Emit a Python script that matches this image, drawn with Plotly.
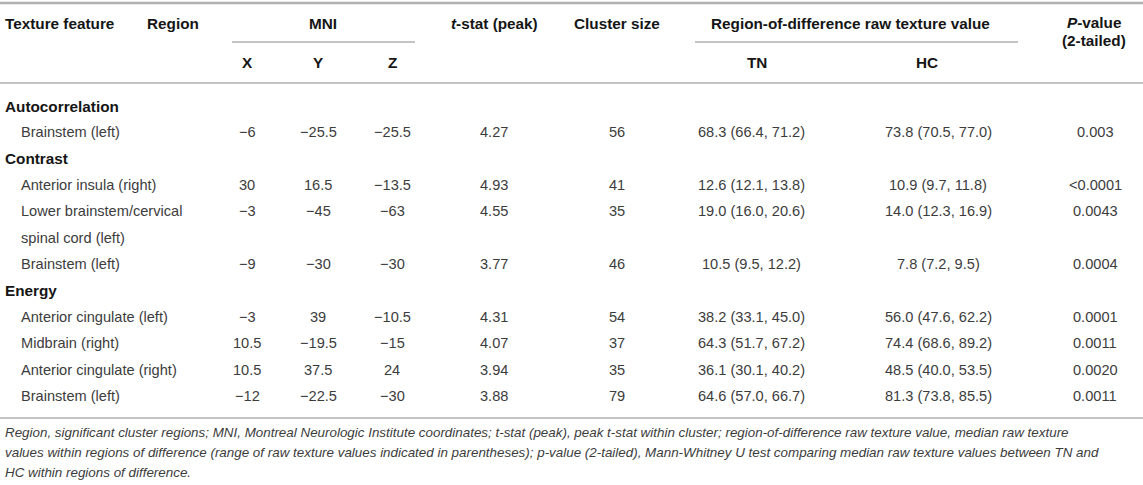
import textwrap
import plotly.graph_objects as go

# table data
features = ["Autocorrelation", "Contrast", "Contrast", "Contrast",
            "Energy", "Energy", "Energy", "Energy"]
regions = ["Brainstem (left)", "Anterior insula (right)",
           "Lower brainstem/cervical spinal cord (left)", "Brainstem (left)",
           "Anterior cingulate (left)", "Midbrain (right)",
           "Anterior cingulate (right)", "Brainstem (left)"]
mni_x = [-6, 30, -3, -9, -3, 10.5, 10.5, -12]
mni_y = [-25.5, 16.5, -45, -30, 39, -19.5, 37.5, -22.5]
mni_z = [-25.5, -13.5, -63, -30, -10.5, -15, 24, -30]
t_peak = [4.27, 4.93, 4.55, 3.77, 4.31, 4.07, 3.94, 3.88]
cluster_size = [56, 41, 35, 46, 54, 37, 35, 79]
tn_median = [68.3, 12.6, 19.0, 10.5, 38.2, 64.3, 36.1, 64.6]
tn_low = [66.4, 12.1, 16.0, 9.5, 33.1, 51.7, 30.1, 57.0]
tn_high = [71.2, 13.8, 20.6, 12.2, 45.0, 67.2, 40.2, 66.7]
hc_median = [73.8, 10.9, 14.0, 7.8, 56.0, 74.4, 48.5, 81.3]
hc_low = [70.5, 9.7, 12.3, 7.2, 47.6, 68.6, 40.0, 73.8]
hc_high = [77.0, 11.8, 16.9, 9.5, 62.2, 89.2, 53.5, 85.5]
p_values = ["0.003", "<0.0001", "0.0043", "0.0004", "0.0001", "0.0011", "0.0020", "0.0011"]

footnote = [
    "Region, significant cluster regions; MNI, Montreal Neurologic Institute coordinates; t-stat (peak), peak t-stat within cluster; region-of-difference raw texture value, median raw texture",
    "values within regions of difference (range of raw texture values indicated in parentheses); p-value (2-tailed), Mann-Whitney U test comparing median raw texture values between TN and",
    "HC within regions of difference.",
]

FONT = "Liberation Sans, Arial, sans-serif"
BODY = "#3c3c3c"
HEAD = "#151515"
RULE = "#b0b0b0"
W, H = 1143, 485


def num(v):
    return f"{v:g}".replace("-", "\u2212")


def rng(m, lo, hi):
    return f"{m:.1f} ({lo:.1f}, {hi:.1f})"


fig = go.Figure()
ann = []


def txt(x, y, s, anchor="center", bold=False, size=14.6, color=BODY, italic=False):
    if bold:
        s = f"<b>{s}</b>"
    if italic:
        s = f"<i>{s}</i>"
    ann.append(dict(x=x, y=y, xref="x", yref="y", text=s, showarrow=False,
                    xanchor=anchor, yanchor="middle",
                    font=dict(family=FONT, size=size, color=color)))


# header
hsize = 15.3
txt(3, 23, "Texture feature", "left", True, hsize, HEAD)
txt(145, 23, "Region", "left", True, hsize, HEAD)
txt(323, 23, "MNI", bold=True, size=hsize, color=HEAD)
txt(494, 23, "<i>t</i>-stat (peak)", bold=True, size=hsize, color=HEAD)
txt(617, 23, "Cluster size", bold=True, size=hsize, color=HEAD)
txt(850, 23, "Region-of-difference raw texture value", bold=True, size=hsize, color=HEAD)
txt(1094, 22, "<i>P</i>-value", bold=True, size=hsize, color=HEAD)
txt(1094, 40, "(2-tailed)", bold=True, size=hsize, color=HEAD)
for x, s in zip([247, 318, 392, 757, 927], ["X", "Y", "Z", "TN", "HC"]):
    txt(x, 62, s, bold=True, size=hsize, color=HEAD)

# body rows
y0, step = 106, 26.36
line = 0
prev = None
for i in range(len(regions)):
    if features[i] != prev:
        txt(3, y0 + step * line, features[i], "left", True, hsize, HEAD)
        line += 1
        prev = features[i]
    y = y0 + step * line
    parts = textwrap.wrap(regions[i], 26)
    for k, p in enumerate(parts):
        txt(19, y + step * k, p, "left")
    txt(247, y, num(mni_x[i]))
    txt(318, y, num(mni_y[i]))
    txt(392, y, num(mni_z[i]))
    txt(494, y, f"{t_peak[i]:.2f}")
    txt(617, y, str(cluster_size[i]))
    txt(751, y, rng(tn_median[i], tn_low[i], tn_high[i]))
    txt(938, y, rng(hc_median[i], hc_low[i], hc_high[i]))
    txt(1095, y, p_values[i])
    line += len(parts)

for k, s in enumerate(footnote):
    txt(3, 432 + 20.3 * k, s, "left", size=13.4, color=BODY, italic=True)

shapes = [
    dict(type="line", x0=0, x1=W, y0=3, y1=3, line=dict(color=RULE, width=2.5)),
    dict(type="line", x0=232, x1=415, y0=42, y1=42, line=dict(color=RULE, width=1.5)),
    dict(type="line", x0=695, x1=1018, y0=42, y1=42, line=dict(color=RULE, width=1.5)),
    dict(type="line", x0=0, x1=W, y0=83, y1=83, line=dict(color=RULE, width=1.5)),
    dict(type="line", x0=0, x1=W, y0=418, y1=418, line=dict(color=RULE, width=1.5)),
]
for s in shapes:
    s.update(xref="x", yref="y")

fig.update_layout(
    width=W, height=H,
    margin=dict(l=0, r=0, t=0, b=0),
    paper_bgcolor="white", plot_bgcolor="white",
    xaxis=dict(range=[0, W], visible=False, fixedrange=True),
    yaxis=dict(range=[H, 0], visible=False, fixedrange=True),
    annotations=ann, shapes=shapes, showlegend=False,
)

# drop the default page margin so the figure fills the window exactly
fig.write_html("out.html", config={"displayModeBar": False},
               post_script="document.body.style.margin='0';document.body.style.overflow='hidden';")
